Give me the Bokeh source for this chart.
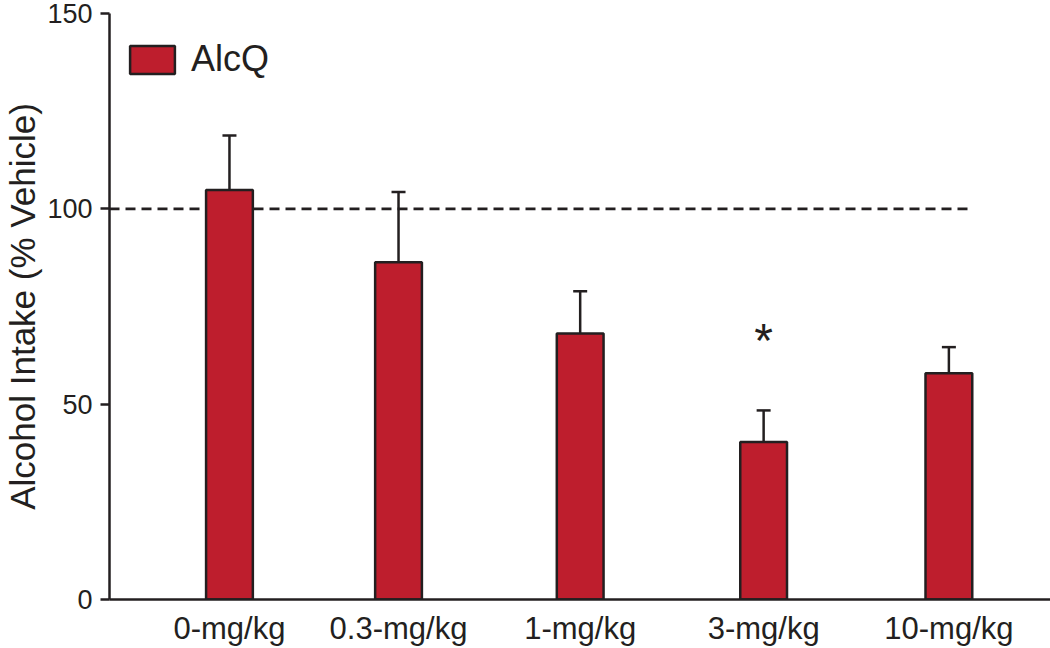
from bokeh.plotting import figure
from bokeh.models import (Range1d, FixedTicker, ColumnDataSource,
                          Whisker, TeeHead, Legend, LegendItem)
from bokeh.core.properties import value
from bokeh.embed import file_html
from bokeh.resources import INLINE

# ---- data ----
doses = ["0-mg/kg", "0.3-mg/kg", "1-mg/kg", "3-mg/kg", "10-mg/kg"]
dose_pos = [0, 0.94, 1.95, 2.97, 4.0]   # category positions as drawn in the figure
intake = [104.8, 86.3, 68.1, 40.3, 57.9]
sem = [14.0, 18.0, 10.8, 8.1, 6.7]
sig = ["", "", "", "*", ""]
y_ticks = [0, 50, 100, 150]
series_name = "AlcQ"
y_label = "Alcohol Intake (% Vehicle)"
vehicle_level = 100

FONT = "Liberation Sans"
INK = "#231F20"
RED = "#BE1E2D"

upper = [m + s for m, s in zip(intake, sem)]
src = ColumnDataSource(dict(x=dose_pos, intake=intake, upper=upper))

p = figure(width=1050, height=648, output_backend="svg", toolbar_location=None,
           x_range=Range1d(-0.667, 4.565), y_range=Range1d(0, 150),
           min_border_left=105, min_border_right=0, min_border_top=13,
           min_border_bottom=49)
p.outline_line_color = None
p.xgrid.visible = False
p.ygrid.visible = False
p.background_fill_color = "white"
p.border_fill_color = "white"

# reference line at 100 %
p.segment(x0=[-0.667], x1=[4.12], y0=[vehicle_level], y1=[vehicle_level],
          line_color=INK, line_width=2.8, line_dash="10 6")

bars = p.vbar(x="x", top="intake", bottom=0, width=0.26, source=src,
              fill_color=RED, line_color=INK, line_width=2.5)

w = Whisker(base="x", lower="intake", upper="upper", source=src,
            line_color=INK, line_width=2.5,
            upper_head=TeeHead(size=14, line_color=INK, line_width=2.5),
            lower_head=None)
p.add_layout(w)

sig_src = ColumnDataSource(dict(x=dose_pos, y=[u + 18 for u in upper], t=sig))
p.text(x="x", y="y", text="t", source=sig_src, text_font=value(FONT),
       text_font_size="48px", text_align="center", text_baseline="middle",
       text_color=INK)

legend = Legend(items=[LegendItem(label=series_name, renderers=[bars])],
                location=(15, 519), glyph_width=56, glyph_height=35,
                label_text_font=FONT, label_text_font_size="36px",
                label_text_color=INK, label_standoff=11, padding=0, margin=0,
                border_line_color=None, background_fill_alpha=0)
p.add_layout(legend)

yax = p.yaxis[0]
yax.ticker = FixedTicker(ticks=y_ticks)
yax.minor_tick_line_color = None
yax.major_tick_in = 0
yax.major_tick_out = 9
yax.major_tick_line_width = 2.5
yax.major_tick_line_color = INK
yax.axis_line_width = 2.5
yax.axis_line_color = INK
yax.major_label_text_font = FONT
yax.major_label_text_font_size = "27px"
yax.major_label_text_color = INK
yax.major_label_standoff = 8
yax.axis_label = y_label
yax.axis_label_text_font = FONT
yax.axis_label_text_font_size = "35px"
yax.axis_label_text_font_style = "normal"
yax.axis_label_text_color = INK
yax.axis_label_standoff = 2

xax = p.xaxis[0]
xax.ticker = FixedTicker(ticks=dose_pos)
xax.major_label_overrides = {x: d for x, d in zip(dose_pos, doses)}
xax.major_tick_line_color = None
xax.minor_tick_line_color = None
xax.axis_line_width = 2.5
xax.axis_line_color = INK
xax.major_label_text_font = FONT
xax.major_label_text_font_size = "31px"
xax.major_label_text_color = INK
xax.major_label_standoff = 5

open("out.html", "w").write(file_html(p, INLINE))
